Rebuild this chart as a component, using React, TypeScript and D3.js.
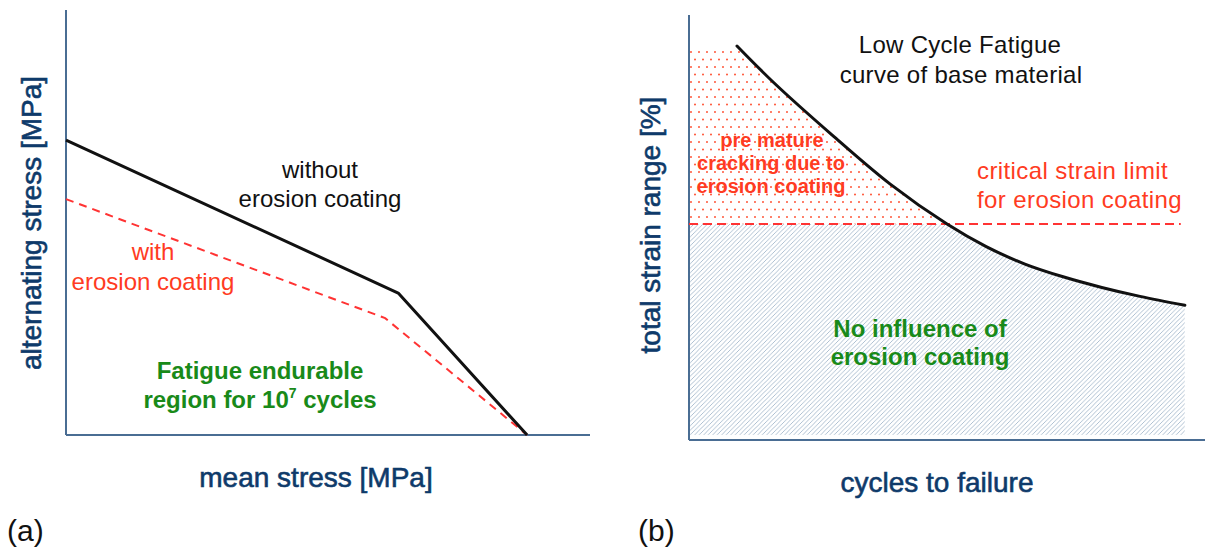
import * as d3 from "d3";

// panel (a): Haigh-type diagram, arbitrary units 0..100
const meanStress = [0, 63.4, 88];
const withoutCoating = [69.4, 33.4, 0];
const meanStressCoated = [0, 60.9, 88];
const withCoating = [55.5, 27.5, 0];

// panel (b): LCF curve, arbitrary units 0..100
const cycles = [9.3, 16.5, 27.7, 39.0, 50.0, 57.6, 65.1, 72.5, 80.0, 87.4, 96.1];
const strainRange = [92.7, 84.0, 71.8, 60.2, 50.8, 45.5, 41.4, 38.4, 35.9, 33.8, 31.7];
const criticalStrain = 50.8;
const dotTop = 92.3;
const hatchBottom = 1.2;
const limitEnd = 95.3;

const FONT = "'Liberation Sans', Arial, sans-serif";
const NAVY = "#0e3a6a";
const AXIS = "#4a6d93";
const RED = "#ff3b22";
const DASH_RED = "#ff3333";
const GREEN = "#198a19";

export default function App() {
  const xA = d3.scaleLinear().domain([0, 100]).range([66, 590]);
  const yA = d3.scaleLinear().domain([0, 100]).range([435, 10]);
  const xB = d3.scaleLinear().domain([0, 100]).range([689, 1205]);
  const yB = d3.scaleLinear().domain([0, 100]).range([440, 15]);

  const lineA = d3.line<[number, number]>().x((d) => xA(d[0])).y((d) => yA(d[1]));
  const blackA = lineA(meanStress.map((m, i) => [m, withoutCoating[i]]));
  const redA = lineA(meanStressCoated.map((m, i) => [m, withCoating[i]]));

  const pts: [number, number][] = cycles.map((c, i) => [c, strainRange[i]]);
  const smooth = d3.curveCatmullRom.alpha(0.5);
  const curve = d3
    .line<[number, number]>()
    .x((d) => xB(d[0]))
    .y((d) => yB(d[1]))
    .curve(smooth)(pts);
  const under = d3
    .area<[number, number]>()
    .x((d) => xB(d[0]))
    .y0(yB(0))
    .y1((d) => yB(d[1]))
    .curve(smooth)(pts);

  const tStyle = { fontFamily: FONT };

  return (
    <svg
      width={1205}
      height={556}
      style={{ position: "absolute", left: 0, top: 0, background: "#fff" }}
    >
      <defs>
        <pattern id="hatch" width={4.5} height={4.5} patternUnits="userSpaceOnUse">
          <path
            d="M-1.125,1.125 l2.25,-2.25 M0,4.5 l4.5,-4.5 M3.375,5.625 l2.25,-2.25"
            stroke="#a7bacd"
            strokeWidth={0.9}
          />
        </pattern>
        <pattern id="dots" width={8} height={15} patternUnits="userSpaceOnUse" x={689} y={50}>
          <circle cx={2} cy={2} r={0.95} fill="#ff4a2a" />
          <circle cx={6} cy={9.5} r={0.95} fill="#ff4a2a" />
        </pattern>
        <clipPath id="leftOfCurve">
          <path d={under ?? ""} />
          <rect x={xB(0)} y={yB(100)} width={xB(cycles[0]) - xB(0)} height={yB(0) - yB(100)} />
        </clipPath>
      </defs>

      {/* ---------- panel (a) ---------- */}
      <g>
        <line x1={xA(0)} x2={xA(0)} y1={yA(100)} y2={yA(0)} stroke={AXIS} strokeWidth={2} />
        <line x1={xA(0)} x2={xA(100)} y1={yA(0)} y2={yA(0)} stroke={AXIS} strokeWidth={2} />
        <path d={redA ?? ""} fill="none" stroke={DASH_RED} strokeWidth={2} strokeDasharray="8 6" />
        <path d={blackA ?? ""} fill="none" stroke="#111" strokeWidth={3} strokeLinejoin="round" />

        <text {...tStyle} fontSize={24} fill="#111" textAnchor="middle">
          <tspan x={320} y={178}>without</tspan>
          <tspan x={320} y={207}>erosion coating</tspan>
        </text>
        <text {...tStyle} fontSize={24} fill={RED} textAnchor="middle">
          <tspan x={153} y={260}>with</tspan>
          <tspan x={153} y={290}>erosion coating</tspan>
        </text>
        <text {...tStyle} fontSize={24} fontWeight="bold" fill={GREEN} textAnchor="middle">
          <tspan x={260} y={379}>Fatigue endurable</tspan>
          <tspan x={260} y={408}>
            region for 10
            <tspan fontSize={14} dy={-10}>7</tspan>
            <tspan dy={10}> cycles</tspan>
          </tspan>
        </text>

        <text {...tStyle} fontSize={28} fill={NAVY} stroke={NAVY} strokeWidth={0.6} textAnchor="middle" x={316} y={487}>
          mean stress [MPa]
        </text>
        <text
          {...tStyle}
          fontSize={28}
          fill={NAVY}
          stroke={NAVY}
          strokeWidth={0.6}
          textAnchor="middle"
          transform="translate(41,223) rotate(-90)"
        >
          alternating stress [MPa]
        </text>
        <text {...tStyle} fontSize={30} fill="#111" x={7} y={541}>
          (a)
        </text>
      </g>

      {/* ---------- panel (b) ---------- */}
      <g>
        <rect
          x={xB(0)}
          y={yB(dotTop)}
          width={xB(cycles[cycles.length - 1]) - xB(0)}
          height={yB(criticalStrain) - yB(dotTop)}
          fill="url(#dots)"
          clipPath="url(#leftOfCurve)"
        />
        <rect
          x={xB(0)}
          y={yB(criticalStrain)}
          width={xB(cycles[cycles.length - 1]) - xB(0)}
          height={yB(hatchBottom) - yB(criticalStrain)}
          fill="url(#hatch)"
          clipPath="url(#leftOfCurve)"
        />
        <line x1={xB(0)} x2={xB(0)} y1={yB(100)} y2={yB(0)} stroke={AXIS} strokeWidth={2} />
        <line x1={xB(0)} x2={xB(100)} y1={yB(0)} y2={yB(0)} stroke={AXIS} strokeWidth={2} />
        <line
          x1={xB(0)}
          x2={xB(limitEnd)}
          y1={yB(criticalStrain)}
          y2={yB(criticalStrain)}
          stroke={DASH_RED}
          strokeWidth={2}
          strokeDasharray="9 5"
        />
        <path d={curve ?? ""} fill="none" stroke="#111" strokeWidth={3} strokeLinecap="round" />

        <text {...tStyle} fontSize={24} fill="#111" textAnchor="middle" letterSpacing={0.3}>
          <tspan x={960} y={53}>Low Cycle Fatigue</tspan>
          <tspan x={961} y={83}>curve of base material</tspan>
        </text>
        <text {...tStyle} fontSize={24} fill={RED} letterSpacing={0.4}>
          <tspan x={977} y={179}>critical strain limit</tspan>
          <tspan x={977} y={208}>for erosion coating</tspan>
        </text>
        <text {...tStyle} fontSize={20} fontWeight="bold" fill={RED} textAnchor="middle">
          <tspan x={772} y={147}>pre mature</tspan>
          <tspan x={771} y={170}>cracking due to</tspan>
          <tspan x={771} y={193}>erosion coating</tspan>
        </text>
        <text {...tStyle} fontSize={24} fontWeight="bold" fill={GREEN} textAnchor="middle">
          <tspan x={920} y={337}>No influence of</tspan>
          <tspan x={920} y={365}>erosion coating</tspan>
        </text>

        <text {...tStyle} fontSize={28} fill={NAVY} stroke={NAVY} strokeWidth={0.6} textAnchor="middle" x={937} y={492}>
          cycles to failure
        </text>
        <text
          {...tStyle}
          fontSize={28}
          fill={NAVY}
          stroke={NAVY}
          strokeWidth={0.6}
          textAnchor="middle"
          transform="translate(660,225) rotate(-90)"
        >
          total strain range [%]
        </text>
        <text {...tStyle} fontSize={30} fill="#111" x={638} y={541}>
          (b)
        </text>
      </g>
    </svg>
  );
}
